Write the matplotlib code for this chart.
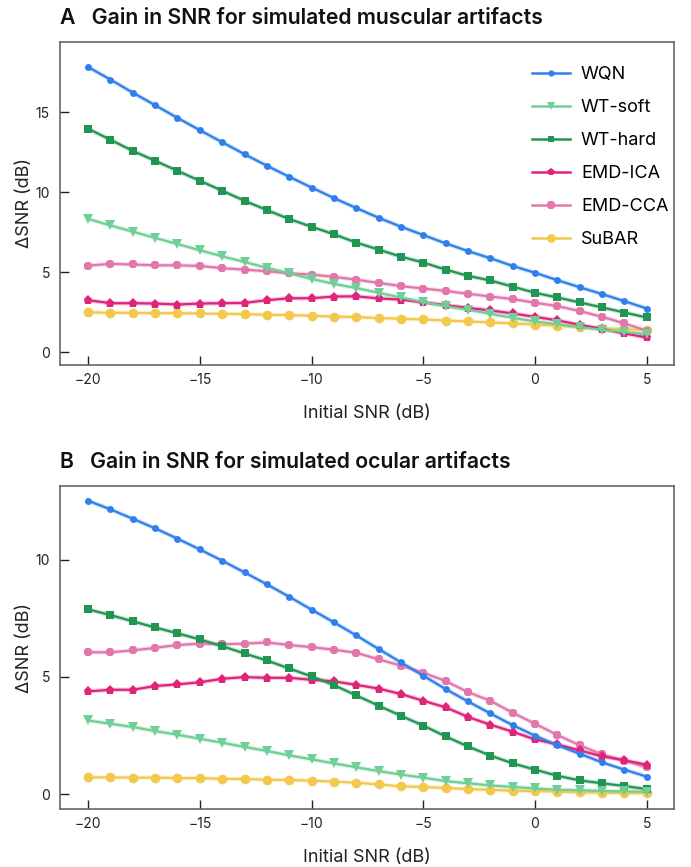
import matplotlib
matplotlib.use('Agg')
import matplotlib.pyplot as plt
from matplotlib.lines import Line2D

plt.rcParams['font.family'] = ['Inter', 'DejaVu Sans']

# initial SNR values (dB)
snr = list(range(-20, 6))

methods = ["WQN", "WT-soft", "WT-hard", "EMD-ICA", "EMD-CCA", "SuBAR"]

# panel A: muscular artifacts
musc_wqn = [17.83, 17.04, 16.23, 15.44, 14.65, 13.88, 13.13, 12.38, 11.66, 10.97, 10.30, 9.64, 9.02,
            8.41, 7.85, 7.33, 6.81, 6.33, 5.88, 5.40, 4.97, 4.51, 4.07, 3.64, 3.20, 2.74]
musc_soft = [8.34, 7.93, 7.54, 7.15, 6.77, 6.38, 6.00, 5.65, 5.28, 4.94, 4.59, 4.28, 4.02,
             3.72, 3.43, 3.14, 2.89, 2.66, 2.41, 2.16, 1.93, 1.75, 1.58, 1.41, 1.27, 1.14]
musc_hard = [13.98, 13.28, 12.59, 11.97, 11.34, 10.72, 10.10, 9.47, 8.89, 8.33, 7.85, 7.38, 6.86,
             6.42, 5.98, 5.61, 5.17, 4.78, 4.49, 4.11, 3.72, 3.43, 3.12, 2.81, 2.49, 2.18]
musc_ica = [3.26, 3.07, 3.07, 3.05, 2.99, 3.05, 3.07, 3.09, 3.26, 3.38, 3.38, 3.49, 3.50,
            3.37, 3.30, 3.12, 2.95, 2.78, 2.62, 2.43, 2.22, 2.00, 1.72, 1.47, 1.18, 0.93]
musc_cca = [5.42, 5.53, 5.49, 5.44, 5.44, 5.40, 5.26, 5.17, 5.07, 4.94, 4.86, 4.72, 4.54,
            4.34, 4.14, 3.99, 3.84, 3.66, 3.49, 3.33, 3.10, 2.89, 2.58, 2.22, 1.81, 1.35]
musc_subar = [2.51, 2.47, 2.47, 2.45, 2.45, 2.43, 2.41, 2.39, 2.35, 2.33, 2.28, 2.24, 2.20,
              2.14, 2.10, 2.06, 1.99, 1.93, 1.87, 1.81, 1.74, 1.66, 1.58, 1.50, 1.45, 1.39]

# panel B: ocular artifacts
ocu_wqn = [12.52, 12.15, 11.75, 11.34, 10.90, 10.44, 9.96, 9.46, 8.95, 8.42, 7.87, 7.33, 6.77,
           6.19, 5.62, 5.05, 4.48, 3.95, 3.44, 2.94, 2.49, 2.08, 1.72, 1.35, 1.04, 0.74]
ocu_soft = [3.14, 3.00, 2.86, 2.69, 2.53, 2.36, 2.19, 2.01, 1.84, 1.65, 1.48, 1.31, 1.14,
            0.98, 0.83, 0.70, 0.55, 0.46, 0.37, 0.30, 0.24, 0.18, 0.16, 0.13, 0.11, 0.10]
ocu_hard = [7.88, 7.64, 7.37, 7.11, 6.86, 6.60, 6.31, 6.00, 5.70, 5.36, 5.02, 4.65, 4.21,
            3.77, 3.34, 2.92, 2.46, 2.03, 1.64, 1.31, 1.04, 0.78, 0.58, 0.46, 0.34, 0.21]
ocu_ica = [4.38, 4.45, 4.45, 4.61, 4.68, 4.77, 4.92, 4.99, 4.96, 4.96, 4.88, 4.81, 4.66,
           4.50, 4.27, 3.98, 3.70, 3.29, 2.96, 2.66, 2.33, 2.12, 1.86, 1.61, 1.44, 1.25]
ocu_cca = [6.05, 6.05, 6.13, 6.24, 6.36, 6.42, 6.39, 6.42, 6.47, 6.36, 6.27, 6.16, 6.03,
           5.75, 5.48, 5.18, 4.82, 4.35, 3.98, 3.47, 3.00, 2.52, 2.08, 1.69, 1.42, 1.14]
ocu_subar = [0.71, 0.71, 0.70, 0.70, 0.68, 0.68, 0.65, 0.64, 0.61, 0.60, 0.57, 0.53, 0.48,
             0.41, 0.33, 0.30, 0.26, 0.21, 0.18, 0.14, 0.13, 0.10, 0.07, 0.06, 0.04, 0.03]

colours = ["#2F80ED", "#6FCF97", "#219653", "#E0237B", "#E377AC", "#F2C94C"]
markers = ["o", "v", "s", "p", "8", "o"]
msizes = [5, 6.5, 5.5, 6.5, 7, 7]


def draw_panel(ax, series, title, ylim):
    # draw last method first so WQN ends up on top
    for i in reversed(range(len(series))):
        ax.plot(snr, series[i], color=colours[i], lw=3.2, alpha=0.25, zorder=2)
        ax.plot(snr, series[i], color=colours[i], lw=1.6, marker=markers[i],
                markersize=msizes[i], markeredgewidth=0, zorder=10 - i)
    ax.set_xlim(-21.24, 6.22)
    ax.set_ylim(*ylim)
    ax.set_xticks([-20, -15, -10, -5, 0, 5])
    ax.set_xticklabels(["\u221220", "\u221215", "\u221210", "\u22125", "0", "5"])
    ax.set_yticks([0, 5, 10, 15] if ylim[1] > 15 else [0, 5, 10])
    ax.tick_params(direction='in', length=6.5, width=1, colors='#222222', labelsize=10)
    ax.tick_params(axis='x', pad=5.5)
    ax.tick_params(axis='y', pad=7.5)
    for s in ax.spines.values():
        s.set_color('#666666')
        s.set_linewidth(1.2)
    ax.set_xlabel("Initial SNR (dB)", fontsize=13, labelpad=13, color='#222222')
    ax.set_ylabel("\u0394SNR (dB)", fontsize=13, labelpad=1.5, color='#222222')
    ax.set_title(title, loc='left', fontsize=15.3, fontweight='semibold', pad=13, color='#111111')


fig = plt.figure(figsize=(6.91, 8.67), dpi=100)
axA = fig.add_axes([0.0874, 0.579, 0.888, 0.3729])
axB = fig.add_axes([0.0874, 0.0666, 0.888, 0.3729])

draw_panel(axA, [musc_wqn, musc_soft, musc_hard, musc_ica, musc_cca, musc_subar],
           "A   Gain in SNR for simulated muscular artifacts", (-0.79, 19.41))
draw_panel(axB, [ocu_wqn, ocu_soft, ocu_hard, ocu_ica, ocu_cca, ocu_subar],
           "B   Gain in SNR for simulated ocular artifacts", (-0.65, 13.15))

handles = [Line2D([], [], color=colours[i], lw=1.8, marker=markers[i],
                  markersize=msizes[i] * 0.9, markeredgewidth=0) for i in range(len(methods))]
axA.legend(handles, methods, loc='upper left', bbox_to_anchor=(0.769, 0.925), frameon=False,
           fontsize=13, handlelength=2.1, handletextpad=0.6, labelspacing=0.89,
           borderpad=0, borderaxespad=0)

plt.savefig("out.png", dpi=100)
